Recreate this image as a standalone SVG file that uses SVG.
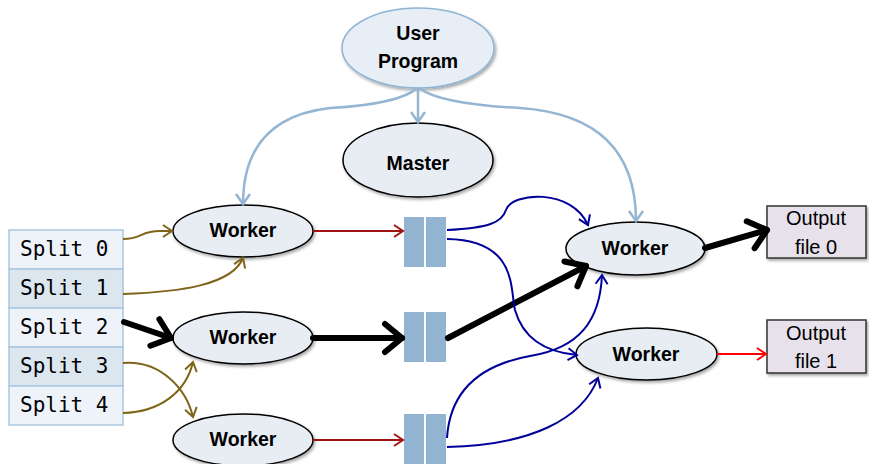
<svg xmlns="http://www.w3.org/2000/svg" width="869" height="464" viewBox="0 0 869 464">
<style>
.ell{fill:#e8edf4;stroke:#000;stroke-width:1.5}
.lbl{font-family:"Liberation Sans",Arial,sans-serif;font-weight:bold;font-size:19.5px;text-anchor:middle;fill:#000}
.out{font-family:"Liberation Sans",Arial,sans-serif;font-size:20px;text-anchor:middle;fill:#000}
.spl{font-family:"DejaVu Sans Mono","Liberation Mono",monospace;font-size:21px;fill:#000}
.sa{fill:#eef3f9;stroke:#a9c6df;stroke-width:1.5}
.sb{fill:#dce6ef;stroke:#a9c6df;stroke-width:1.5}
.buf{fill:#92b4d1}
.obox{fill:#e7e1ec;stroke:#333;stroke-width:1.5}
.c{fill:none}
.lb{stroke:#95b6d3;stroke-width:2.5}
.br{stroke:#7f6419;stroke-width:2}
.nv{stroke:#000099;stroke-width:2}
.dr{stroke:#a01414;stroke-width:2}
.rd{stroke:#ff0000;stroke-width:2}
.bk{stroke:#000;stroke-width:6;stroke-linecap:round}
</style>
<defs>
<filter id="sh" x="-10%" y="-10%" width="130%" height="140%">
<feDropShadow dx="1.5" dy="2" stdDeviation="1.5" flood-color="#000" flood-opacity="0.35"/>
</filter>
<marker id="mLb" markerUnits="userSpaceOnUse" markerWidth="20" markerHeight="20" viewBox="0 0 20 20" refX="13" refY="10" orient="auto"><path d="M3,3 L13,10 L3,17" fill="none" stroke="#95b6d3" stroke-width="2.5"/></marker>
<marker id="mBr" markerUnits="userSpaceOnUse" markerWidth="20" markerHeight="20" viewBox="0 0 20 20" refX="13" refY="10" orient="auto"><path d="M4,4 L13,10 L4,16" fill="none" stroke="#7f6419" stroke-width="2"/></marker>
<marker id="mNv" markerUnits="userSpaceOnUse" markerWidth="20" markerHeight="20" viewBox="0 0 20 20" refX="13" refY="10" orient="auto"><path d="M4,4 L13,10 L4,16" fill="none" stroke="#000099" stroke-width="2"/></marker>
<marker id="mDr" markerUnits="userSpaceOnUse" markerWidth="20" markerHeight="20" viewBox="0 0 20 20" refX="13" refY="10" orient="auto"><path d="M4,4 L13,10 L4,16" fill="none" stroke="#a01414" stroke-width="2"/></marker>
<marker id="mRd" markerUnits="userSpaceOnUse" markerWidth="20" markerHeight="20" viewBox="0 0 20 20" refX="13" refY="10" orient="auto"><path d="M4,4 L13,10 L4,16" fill="none" stroke="#ff0000" stroke-width="2"/></marker>
<marker id="mBk" markerUnits="userSpaceOnUse" markerWidth="40" markerHeight="40" viewBox="0 0 40 40" refX="30" refY="20" orient="auto"><path d="M13,6 L30,20 L13,34" fill="none" stroke="#000" stroke-width="6" stroke-linecap="round" stroke-linejoin="round"/></marker>
</defs>

<g id="user-program"><ellipse cx="418" cy="48" rx="76" ry="40" fill="#e8eef6" stroke="#8fb4d4" stroke-width="1.5" filter="url(#sh)"/><text class="lbl" x="418" y="40">User</text><text class="lbl" x="418" y="68">Program</text></g>
<g id="master"><ellipse class="ell" cx="418" cy="160" rx="75" ry="37" filter="url(#sh)"/><text class="lbl" x="418" y="170">Master</text></g>

<g id="splits">
<rect class="sa" x="9" y="230" width="114" height="39"/><text class="spl" x="20" y="256">Split 0</text>
<rect class="sb" x="9" y="269" width="114" height="39"/><text class="spl" x="20" y="295">Split 1</text>
<rect class="sa" x="9" y="308" width="114" height="39"/><text class="spl" x="20" y="334">Split 2</text>
<rect class="sb" x="9" y="347" width="114" height="39"/><text class="spl" x="20" y="373">Split 3</text>
<rect class="sa" x="9" y="386" width="114" height="39"/><text class="spl" x="20" y="412">Split 4</text>
</g>

<g id="worker-m1"><ellipse class="ell" cx="243" cy="231" rx="70" ry="26" filter="url(#sh)"/><text class="lbl" x="243" y="237">Worker</text></g>
<g id="worker-m2"><ellipse class="ell" cx="243" cy="338" rx="70" ry="26" filter="url(#sh)"/><text class="lbl" x="243" y="344">Worker</text></g>
<g id="worker-m3"><ellipse class="ell" cx="243" cy="440" rx="70" ry="26" filter="url(#sh)"/><text class="lbl" x="243" y="446">Worker</text></g>

<g id="buffer-1"><rect class="buf" x="404" y="217" width="20" height="50"/><rect class="buf" x="426" y="217" width="20" height="50"/></g>
<g id="buffer-2"><rect class="buf" x="404" y="312" width="20" height="50"/><rect class="buf" x="426" y="312" width="20" height="50"/></g>
<g id="buffer-3"><rect class="buf" x="404" y="414" width="20" height="50"/><rect class="buf" x="426" y="414" width="20" height="50"/></g>

<g id="worker-r1"><ellipse class="ell" cx="635.5" cy="248.5" rx="69.5" ry="26.5" filter="url(#sh)"/><text class="lbl" x="635" y="255">Worker</text></g>
<g id="worker-r2"><ellipse class="ell" cx="646.5" cy="354" rx="70.5" ry="26" filter="url(#sh)"/><text class="lbl" x="646" y="361">Worker</text></g>

<g id="output-0"><rect class="obox" x="767" y="206" width="99" height="52" filter="url(#sh)"/><text class="out" x="816" y="225">Output</text><text class="out" x="816" y="254">file 0</text></g>
<g id="output-1"><rect class="obox" x="767" y="320" width="99" height="53" filter="url(#sh)"/><text class="out" x="816" y="340">Output</text><text class="out" x="816" y="368">file 1</text></g>

<g id="connectors">
<path class="c lb" d="M418,88 L418,122" marker-end="url(#mLb)"/>
<path class="c lb" d="M417,88 Q400,104 330,108 Q243,118 243,204" marker-end="url(#mLb)"/>
<path class="c lb" d="M419,88 Q440,104 520,108 Q636,116 636,221" marker-end="url(#mLb)"/>

<path class="c br" d="M123,239 C142,239 140,231 160,231 L172,231" marker-end="url(#mBr)"/>
<path class="c br" d="M123,294 C180,292 232,285 243,258" marker-end="url(#mBr)"/>
<path class="c br" d="M123,363 C160,360 186,388 193,417" marker-end="url(#mBr)"/>
<path class="c br" d="M123,413 C160,412 186,392 193,362" marker-end="url(#mBr)"/>

<path class="c bk" d="M124,322 L171,338" marker-end="url(#mBk)"/>
<path class="c bk" d="M313,338 L402,338" marker-end="url(#mBk)"/>
<path class="c bk" d="M448,338 L586,266" marker-end="url(#mBk)"/>
<path class="c bk" d="M705,248 L767,230" marker-end="url(#mBk)"/>

<path class="c dr" d="M313,231 L403,231" marker-end="url(#mDr)"/>
<path class="c dr" d="M313,440 L403,440" marker-end="url(#mDr)"/>
<path class="c rd" d="M717,354 L766,354" marker-end="url(#mRd)"/>

<path class="c nv" d="M447,230 C490,228 502,222 506,210 C512,192 572,188 588,225" marker-end="url(#mNv)"/>
<path class="c nv" d="M447,239 C518,240 510,290 515,310 C525,345 555,353 577,355" marker-end="url(#mNv)"/>
<path class="c nv" d="M447,438 C450,390 480,365 530,356 C580,348 600,320 602,275" marker-end="url(#mNv)"/>
<path class="c nv" d="M447,447 C530,445 582,420 598,378" marker-end="url(#mNv)"/>
</g>
</svg>
